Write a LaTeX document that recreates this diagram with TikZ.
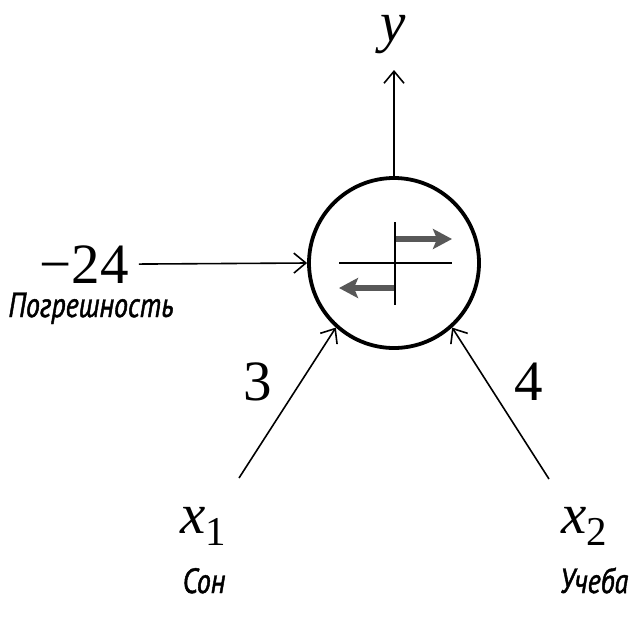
\documentclass[tikz,border=0pt]{standalone}
\usepackage{fontspec}
\setmainfont{Liberation Serif}
\newfontfamily\rufont[FakeStretch=0.8,FakeBold=1.3]{PT Sans}
\usepackage{xcolor}
\usetikzlibrary{arrows.meta}
\definecolor{signgray}{RGB}{88,88,88}
\newcommand{\xsub}[1]{\textit{x}\raisebox{-12pt}{\fontsize{41}{41}\selectfont #1}}

\begin{document}
\begin{tikzpicture}[x=1pt, y=-1pt,
    inarrow/.style={line width=1.6pt, -{Straight Barb[length=12pt,width=20pt,line width=1.6pt]}},
    signarrow/.style={signgray, line width=6.5pt, -{Stealth[length=19pt,width=20pt,inset=4pt]}},
    numlabel/.style={inner sep=0pt, font=\fontsize{57}{60}\selectfont},
    rulabel/.style={inner sep=0pt, font=\fontsize{35}{38}\selectfont\rufont\itshape}]
    \useasboundingbox (0,0) rectangle (629,624);

    % нейрон
    \node[draw, circle, line width=3.8pt, minimum size=170pt, inner sep=0pt] (neuron) at (394,263) {};
    \draw[line width=2pt] (339,263) -- (452,263);
    \draw[line width=2pt] (395,222) -- (395,305);
    \draw[signarrow] (396,239) -- (452,239);
    \draw[signarrow] (394,288) -- (339,288);

    % выход
    \node[numlabel, anchor=base] (y) at (393,41) {\textit{y}};
    \coordinate (yend) at (394,70);
    \draw[inarrow] (neuron.north) -- (yend);

    % смещение
    \node[numlabel, anchor=base] (bias) at (84,283) {−24};
    \node[rulabel, anchor=base] (biasname) at (91,317) {Погрешность};
    \draw[inarrow, shorten <=10pt] (bias.east) -- (neuron.west);

    % входы
    \coordinate (s1) at (239,478);
    \coordinate (s2) at (549,479);
    \draw[inarrow] (s1) -- (neuron.228);
    \draw[inarrow] (s2) -- (neuron.312);
    \node[numlabel, anchor=base] (w1) at (258,400) {3};
    \node[numlabel, anchor=base] (w2) at (529,400) {4};

    \node[numlabel, anchor=base] (x1) at (203,533) {\xsub{1}};
    \node[numlabel, anchor=base] (x2) at (584,533) {\xsub{2}};
    \node[rulabel, anchor=base] (x1name) at (204,593) {Сон};
    \node[rulabel, anchor=base] (x2name) at (594,593) {Учеба};
\end{tikzpicture}
\end{document}
